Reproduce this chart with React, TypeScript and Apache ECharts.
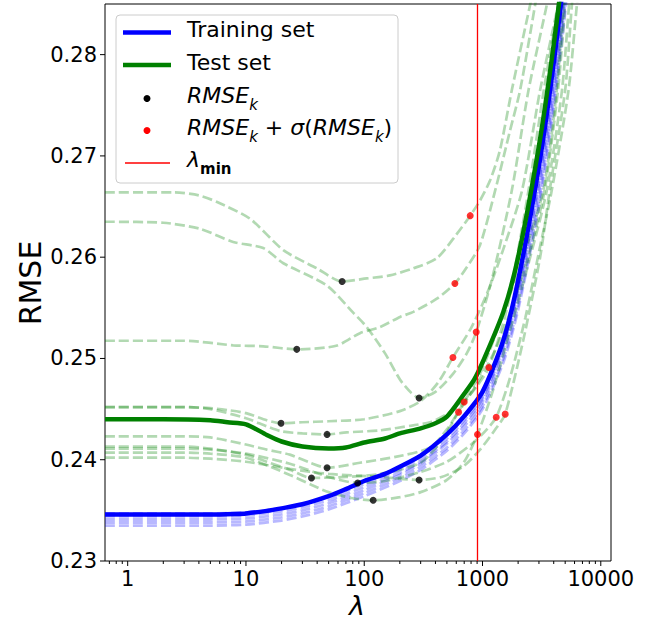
import React, { useEffect, useRef } from 'react';
import * as echarts from 'echarts';

// ---- axes ----
const X_MIN = 0.643;
const X_MAX = 12200;
const Y_MIN = 0.23;
const Y_MAX = 0.285;
const X_MAJOR_TICKS = [1, 10, 100, 1000, 10000];
const X_MINOR_TICKS = [0.7, 0.8, 0.9, 2, 3, 4, 5, 6, 7, 8, 9, 20, 30, 40, 50, 60, 70, 80, 90, 200, 300, 400, 500, 600, 700, 800, 900, 2000, 3000, 4000, 5000, 6000, 7000, 8000, 9000];
const Y_TICKS = [0.23, 0.24, 0.25, 0.26, 0.27, 0.28];

// ---- mean curves ----
const TRAIN_SET = [[0.643, 0.2346], [1, 0.2346], [2, 0.2346], [5, 0.2346], [8, 0.23465], [10, 0.2347], [15, 0.23495], [20, 0.2352], [30, 0.2356], [50, 0.2364], [70, 0.2371], [100, 0.2379], [150, 0.2386], [200, 0.2393], [300, 0.2404], [500, 0.2425], [700, 0.2443], [1000, 0.2467], [1500, 0.2518], [2000, 0.2577], [3000, 0.269], [4000, 0.2792], [5000, 0.289], [7000, 0.31]];
const TEST_SET = [[0.643, 0.244], [2, 0.244], [5, 0.2439], [7, 0.2437], [10, 0.2435], [15, 0.24245], [20, 0.2418], [30, 0.2413], [50, 0.2411], [70, 0.2412], [100, 0.2417], [150, 0.2421], [200, 0.2426], [300, 0.2431], [400, 0.2436], [500, 0.24425], [700, 0.2465], [850, 0.2479], [1000, 0.2496], [1500, 0.2546], [2000, 0.26], [3000, 0.271], [4000, 0.281], [5000, 0.2905], [7000, 0.31]];

// ---- per-fold training curves ----
const TRAIN_FOLD_1 = [[0.643, 0.2347], [5, 0.2347], [10, 0.2348], [20, 0.2352], [30, 0.2356], [50, 0.2363], [100, 0.2376], [200, 0.239], [300, 0.2401], [500, 0.2421], [700, 0.2439], [1000, 0.2462], [1500, 0.2513], [2000, 0.2568], [3000, 0.2676], [4000, 0.2778], [5000, 0.2872], [7000, 0.305]];
const TRAIN_FOLD_2 = [[0.643, 0.2344], [5, 0.2344], [10, 0.2345], [20, 0.2349], [30, 0.2353], [50, 0.236], [100, 0.2373], [200, 0.2387], [300, 0.2398], [500, 0.2418], [700, 0.2436], [1000, 0.246], [1500, 0.251], [2000, 0.2565], [3000, 0.2672], [4000, 0.2772], [5000, 0.2866], [7000, 0.305]];
const TRAIN_FOLD_3 = [[0.643, 0.2341], [5, 0.2341], [10, 0.2342], [20, 0.2346], [30, 0.235], [50, 0.2357], [100, 0.237], [200, 0.2385], [300, 0.2396], [500, 0.2416], [700, 0.2433], [1000, 0.2457], [1500, 0.2506], [2000, 0.256], [3000, 0.2665], [4000, 0.2764], [5000, 0.2858], [7000, 0.304]];
const TRAIN_FOLD_4 = [[0.643, 0.2338], [5, 0.2338], [10, 0.2339], [20, 0.2343], [30, 0.2347], [50, 0.2354], [100, 0.2367], [200, 0.2382], [300, 0.2393], [500, 0.2412], [700, 0.2429], [1000, 0.2453], [1500, 0.25], [2000, 0.2552], [3000, 0.2656], [4000, 0.2755], [5000, 0.285], [7000, 0.303]];
const TRAIN_FOLD_5 = [[0.643, 0.2335], [5, 0.2335], [10, 0.2336], [20, 0.234], [30, 0.2344], [50, 0.2351], [100, 0.2364], [200, 0.2379], [300, 0.239], [500, 0.2409], [700, 0.2426], [1000, 0.245], [1500, 0.2496], [2000, 0.2548], [3000, 0.265], [4000, 0.2748], [5000, 0.2842], [7000, 0.302]];

// ---- per-fold test curves ----
const TEST_FOLD_1 = [[0.643, 0.2664], [2.5, 0.2664], [4, 0.2661], [5.7, 0.26545], [10.8, 0.2638], [20.7, 0.2607], [39.7, 0.2589], [65, 0.2576], [105, 0.2579], [165, 0.2582], [260, 0.2589], [411, 0.2599], [607, 0.2623], [787, 0.2641], [953, 0.2656], [1160, 0.2676], [1400, 0.2705], [1770, 0.2765], [2535, 0.285], [3000, 0.289]];
const TEST_FOLD_2 = [[0.643, 0.2635], [2, 0.2634], [4.1, 0.2628], [7.8, 0.2615], [14, 0.2609], [20.7, 0.2594], [48.3, 0.2572], [81, 0.2545], [105, 0.2531], [150, 0.2505], [201, 0.2479], [250, 0.2466], [291, 0.2461], [400, 0.2467], [565, 0.2485], [736, 0.2505], [885, 0.2526], [1200, 0.2578], [1770, 0.2666], [2450, 0.2765], [3507, 0.285], [4200, 0.29]];
const TEST_FOLD_3 = [[0.643, 0.25175], [3, 0.25175], [7.8, 0.2513], [14, 0.2512], [26.9, 0.2509], [58, 0.25125], [92, 0.2525], [136, 0.2531], [201, 0.2541], [260, 0.2546], [411, 0.2559], [584, 0.2574], [736, 0.259], [953, 0.2612], [1320, 0.2672], [1700, 0.2724], [2080, 0.2765], [2793, 0.285], [3300, 0.29]];
const TEST_FOLD_4 = [[0.643, 0.2452], [3, 0.2452], [5, 0.2451], [7, 0.2449], [10, 0.2446], [15, 0.2439], [19.8, 0.2436], [30, 0.2437], [50, 0.2438], [100, 0.244], [200, 0.2448], [300, 0.2458], [420, 0.2476], [562, 0.2501], [800, 0.253], [1100, 0.2565], [1500, 0.2608], [2160, 0.2666], [3070, 0.2765], [4367, 0.285], [5000, 0.289]];
const TEST_FOLD_5 = [[0.643, 0.2452], [3, 0.2452], [5, 0.245], [10, 0.2441], [15, 0.2433], [20, 0.2428], [30, 0.2426], [48.5, 0.2425], [71, 0.2427], [136, 0.2429], [260, 0.2434], [360, 0.2437], [500, 0.2445], [700, 0.2458], [900, 0.2473], [1132, 0.2491], [1600, 0.2548], [2450, 0.2666], [3300, 0.2765], [4400, 0.285], [5000, 0.289]];
const TEST_FOLD_6 = [[0.643, 0.2423], [3, 0.2423], [5, 0.2422], [10, 0.2415], [15, 0.241], [23.5, 0.2405], [35, 0.2397], [48.5, 0.2392], [92, 0.2397], [188, 0.2403], [360, 0.2412], [500, 0.243], [700, 0.2457], [1000, 0.249], [1500, 0.2545], [2200, 0.26], [3270, 0.2666], [4250, 0.2765], [4816, 0.285], [5500, 0.292]];
const TEST_FOLD_7 = [[0.643, 0.2413], [3, 0.2413], [5, 0.2411], [10, 0.2405], [15, 0.2398], [23.5, 0.239], [35.8, 0.2382], [70, 0.2383], [136, 0.2386], [300, 0.2397], [450, 0.2419], [627, 0.2447], [900, 0.2475], [1300, 0.251], [1890, 0.256], [2600, 0.2612], [3350, 0.2666], [4350, 0.2765], [5000, 0.285], [5600, 0.292]];
const TEST_FOLD_8 = [[0.643, 0.2411], [3, 0.2411], [5, 0.241], [10, 0.2406], [23.5, 0.2396], [50, 0.2383], [88, 0.2377], [150, 0.2379], [300, 0.2388], [500, 0.2398], [800, 0.2415], [1050, 0.2428], [1306, 0.2442], [1700, 0.248], [2300, 0.254], [3000, 0.2605], [3850, 0.2666], [5340, 0.2765], [6290, 0.285], [7000, 0.29]];
const TEST_FOLD_9 = [[0.643, 0.2402], [3, 0.2402], [5, 0.2401], [10, 0.2398], [23.5, 0.2391], [50, 0.2386], [136, 0.2383], [291, 0.238], [450, 0.2383], [680, 0.2393], [953, 0.241], [1320, 0.2432], [1556, 0.2445], [2210, 0.2518], [3070, 0.26], [3700, 0.2666], [5000, 0.2765], [5705, 0.285], [6500, 0.292]];
const TEST_FOLD_10 = [[0.643, 0.2407], [3, 0.2407], [5, 0.2406], [10, 0.2402], [23.5, 0.2385], [36, 0.2375], [50, 0.2368], [80, 0.2362], [119, 0.236], [200, 0.2363], [300, 0.2368], [500, 0.238], [700, 0.2398], [907, 0.2425], [1200, 0.2465], [1620, 0.2518], [2400, 0.259], [3500, 0.2666], [4700, 0.2765], [5400, 0.285], [6000, 0.291]];

// ---- markers ----
const RMSE_K_POINTS = [[65, 0.2576], [26.9, 0.2509], [291, 0.2461], [19.8, 0.2436], [48.5, 0.2425], [48.5, 0.2392], [35.8, 0.2382], [88, 0.2377], [291, 0.238], [119, 0.236]];
const RMSE_K_SIGMA_POINTS = [[787, 0.2641], [584, 0.2574], [885, 0.2526], [562, 0.2501], [1132, 0.2491], [700, 0.2457], [627, 0.2447], [1306, 0.2442], [1556, 0.2445], [907, 0.2425]];
const LAMBDA_MIN = 907;

const TRAIN_FOLDS = [TRAIN_FOLD_1, TRAIN_FOLD_2, TRAIN_FOLD_3, TRAIN_FOLD_4, TRAIN_FOLD_5];
const TEST_FOLDS = [TEST_FOLD_1, TEST_FOLD_2, TEST_FOLD_3, TEST_FOLD_4, TEST_FOLD_5, TEST_FOLD_6, TEST_FOLD_7, TEST_FOLD_8, TEST_FOLD_9, TEST_FOLD_10];

const FONT = 'DejaVu Sans';

export default function App() {
  const ref = useRef<HTMLDivElement>(null);
  useEffect(() => {
    document.body.style.margin = '0';
    const chart = echarts.init(ref.current as HTMLDivElement, null, { renderer: 'svg' });

    const foldLine = (data: number[][], color: string, width: number) => ({
      type: 'line',
      data,
      symbol: 'none',
      showSymbol: false,
      smooth: 0.25,
      silent: true,
      z: 2,
      lineStyle: { color, width, type: [10, 4] },
      emphasis: { disabled: true },
    });

    const tickSeries = (values: number[], axis: 'x' | 'y', len: number) => ({
      type: 'custom',
      silent: true,
      z: 10,
      clip: false,
      data: values.map((v) => (axis === 'x' ? [v, Y_MIN] : [X_MIN, v])),
      renderItem: (_p: any, api: any) => {
        const pt = api.coord([api.value(0), api.value(1)]);
        return axis === 'x'
          ? { type: 'line', shape: { x1: pt[0], y1: pt[1], x2: pt[0], y2: pt[1] + len }, style: { stroke: '#000', lineWidth: 1 } }
          : { type: 'line', shape: { x1: pt[0] - len, y1: pt[1], x2: pt[0], y2: pt[1] }, style: { stroke: '#000', lineWidth: 1 } };
      },
    });

    const sub = (extra: any = {}) => ({ fontFamily: FONT, fontSize: 15, fontStyle: 'italic', lineHeight: 15, padding: [13, 0, 0, 0], verticalAlign: 'top', color: '#000', ...extra });
    const main = (extra: any = {}) => ({ fontFamily: FONT, fontSize: 22, lineHeight: 28, verticalAlign: 'top', color: '#000', ...extra });
    const rich = {
      m: main({ fontStyle: 'italic' }),
      n: main(),
      s: sub(),
      b: sub({ fontStyle: 'normal', fontWeight: 'bold' }),
    };

    const legendText = (y: number, text: string) => ({
      type: 'text',
      x: 187,
      y,
      z: 101,
      style: { text, rich, fontFamily: FONT, fontSize: 22, fill: '#000', align: 'left', verticalAlign: 'middle', textAlign: 'left', textVerticalAlign: 'middle' },
    });

    const option: any = {
      animation: false,
      grid: { left: 105, right: 45, top: 4, bottom: 60, show: true, borderColor: '#000', borderWidth: 1, backgroundColor: 'transparent' },
      xAxis: {
        type: 'log',
        logBase: 10,
        min: X_MIN,
        max: X_MAX,
        axisLine: { show: false },
        axisTick: { show: false },
        splitLine: { show: false },
        axisLabel: {
          margin: 7,
          fontFamily: FONT,
          fontSize: 21,
          color: '#000',
          formatter: (v: number) => {
            const l = Math.log10(v);
            return Math.abs(l - Math.round(l)) < 1e-6 ? String(Math.round(v)) : '';
          },
        },
      },
      yAxis: {
        type: 'value',
        min: Y_MIN,
        max: Y_MAX,
        interval: 0.01,
        axisLine: { show: false },
        axisTick: { show: false },
        splitLine: { show: false },
        axisLabel: {
          margin: 8,
          fontFamily: FONT,
          fontSize: 21,
          color: '#000',
          formatter: (v: number) => (Math.abs(v * 100 - Math.round(v * 100)) < 1e-6 ? v.toFixed(2) : ''),
        },
      },
      series: [
        ...TRAIN_FOLDS.map((d) => foldLine(d, 'rgba(0,0,255,0.28)', 2.8)),
        ...TEST_FOLDS.map((d) => foldLine(d, 'rgba(0,128,0,0.3)', 2.7)),
        {
          type: 'line', name: 'Training set', data: TRAIN_SET, symbol: 'none', smooth: 0.25, silent: true, z: 3,
          lineStyle: { color: '#0000ff', width: 4.5 },
        },
        {
          type: 'line', name: 'Test set', data: TEST_SET, symbol: 'none', smooth: 0.25, silent: true, z: 3,
          lineStyle: { color: '#008000', width: 4.5 },
        },
        {
          type: 'line', name: 'lambda_min', data: [[LAMBDA_MIN, Y_MIN], [LAMBDA_MIN, Y_MAX]], symbol: 'none', silent: true, z: 4,
          lineStyle: { color: '#ff0000', width: 1.3 },
        },
        { type: 'scatter', name: 'RMSE_k', data: RMSE_K_POINTS, symbolSize: 7, itemStyle: { color: '#000' }, silent: true, z: 5 },
        { type: 'scatter', name: 'RMSE_k+sigma', data: RMSE_K_SIGMA_POINTS, symbolSize: 7, itemStyle: { color: '#ff0000' }, silent: true, z: 5 },
        tickSeries(X_MAJOR_TICKS, 'x', 5),
        tickSeries(X_MINOR_TICKS, 'x', 3),
        tickSeries(Y_TICKS, 'y', 5),
      ],
      graphic: [
        {
          type: 'text', x: 30, y: 283, rotation: Math.PI / 2, z: 100,
          style: { text: 'RMSE', fontFamily: FONT, fontSize: 30, fill: '#000', align: 'center', verticalAlign: 'middle', textAlign: 'center', textVerticalAlign: 'middle' },
        },
        {
          type: 'text', x: 357, y: 605, z: 100,
          style: { text: 'λ', fontFamily: FONT, fontSize: 27, fontStyle: 'italic', fill: '#000', align: 'center', verticalAlign: 'middle', textAlign: 'center', textVerticalAlign: 'middle' },
        },
        {
          type: 'rect', z: 100,
          shape: { x: 116, y: 15, width: 282, height: 168, r: 4 },
          style: { fill: 'rgba(255,255,255,0.8)', stroke: '#cccccc', lineWidth: 1 },
        },
        { type: 'line', z: 101, shape: { x1: 123, y1: 32.5, x2: 171, y2: 32.5 }, style: { stroke: '#0000ff', lineWidth: 4.5 } },
        { type: 'line', z: 101, shape: { x1: 123, y1: 65, x2: 171, y2: 65 }, style: { stroke: '#008000', lineWidth: 4.5 } },
        { type: 'circle', z: 101, shape: { cx: 147, cy: 98.5, r: 3.5 }, style: { fill: '#000' } },
        { type: 'circle', z: 101, shape: { cx: 147, cy: 130.5, r: 3.5 }, style: { fill: '#ff0000' } },
        { type: 'line', z: 101, shape: { x1: 125, y1: 163, x2: 170, y2: 163 }, style: { stroke: '#ff0000', lineWidth: 1.3 } },
        legendText(32.5, '{n|Training set}'),
        legendText(65, '{n|Test set}'),
        legendText(98.5, '{m|RMSE}{s|k}'),
        legendText(130.5, '{m|RMSE}{s|k}{n| + }{m|σ}{n|(}{m|RMSE}{s|k}{n|)}'),
        legendText(162, '{m|λ}{b|min}'),
      ],
    };

    chart.setOption(option);
    return () => chart.dispose();
  }, []);
  return <div ref={ref} style={{ width: 656, height: 621 }} />;
}
